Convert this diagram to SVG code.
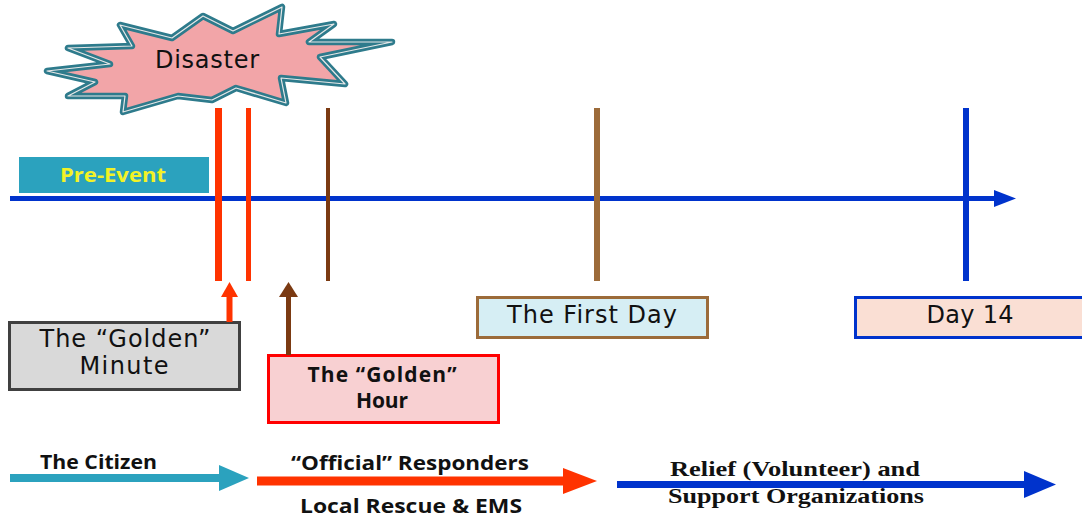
<svg xmlns="http://www.w3.org/2000/svg" width="1082" height="518" viewBox="0 0 1082 518">
<style>
.lucida{font-family:"DejaVu Sans","Liberation Sans",sans-serif;fill:#111;}
.cal{font-family:"Open Sans","Liberation Sans",sans-serif;font-weight:bold;fill:#111;}
.times{font-family:"Liberation Serif","Times New Roman",serif;font-weight:bold;fill:#111;}
.box{stroke-width:3;}
</style>
<rect width="1082" height="518" fill="#ffffff"/>

<g id="disaster">
<polygon points="47,71 110,64 68,48 132,46 120,25 172,38 203,16 233,31 282,7 279,34 334,24 309,42 392,42 320,57 345,84 281,78 286,103 236,88 212,100 178,96 123,112 125,96 68,96 95,82" fill="#f2a5a8" stroke="#2e7b8c" stroke-width="6.5" stroke-linejoin="round"/>
<polygon points="47,71 110,64 68,48 132,46 120,25 172,38 203,16 233,31 282,7 279,34 334,24 309,42 392,42 320,57 345,84 281,78 286,103 236,88 212,100 178,96 123,112 125,96 68,96 95,82" fill="none" stroke="#e8e8e8" stroke-width="1.2" stroke-linejoin="round"/>
<text class="lucida" x="207" y="68" font-size="24" text-anchor="middle" textLength="104" lengthAdjust="spacing">Disaster</text>
</g>

<g id="pre-event">
<rect x="19" y="157" width="190" height="36" fill="#2ba2be"/>
<text class="cal" x="113" y="182" font-size="19" text-anchor="middle" style="fill:#f2f226" textLength="106" lengthAdjust="spacingAndGlyphs">Pre-Event</text>
</g>

<g id="timeline">
<line x1="10" y1="198.5" x2="996" y2="198.5" stroke="#0033cc" stroke-width="5"/>
<polygon points="994,190 1016,198.5 994,207" fill="#0033cc"/>
<line x1="218.5" y1="108" x2="218.5" y2="281" stroke="#ff3300" stroke-width="7"/>
<line x1="248.5" y1="108" x2="248.5" y2="281" stroke="#ff3300" stroke-width="5"/>
<line x1="328" y1="108" x2="328" y2="281" stroke="#7b3a12" stroke-width="4"/>
<line x1="597" y1="108" x2="597" y2="281" stroke="#9c6b3a" stroke-width="6"/>
<line x1="966" y1="108" x2="966" y2="281" stroke="#0033cc" stroke-width="6"/>
</g>

<g id="golden-minute">
<rect class="box" x="9.5" y="322.5" width="230" height="67" fill="#d9d9d9" stroke="#404040"/>
<text class="lucida" x="125" y="347" font-size="24" text-anchor="middle" textLength="171" lengthAdjust="spacing">The “Golden”</text>
<text class="lucida" x="124" y="374" font-size="24" text-anchor="middle" textLength="89" lengthAdjust="spacing">Minute</text>
</g>

<g id="golden-hour">
<rect class="box" x="268.5" y="355.5" width="230" height="67" fill="#f8d0d2" stroke="#ff0000"/>
<text class="cal" x="382" y="382" font-size="21" text-anchor="middle" textLength="149" lengthAdjust="spacing">The “Golden”</text>
<text class="cal" x="382" y="408" font-size="21" text-anchor="middle" textLength="52" lengthAdjust="spacing">Hour</text>
</g>

<g id="first-day">
<rect class="box" x="477.5" y="297.5" width="230" height="40" fill="#d6eef4" stroke="#9c6b3a"/>
<text class="lucida" x="592" y="323" font-size="24" text-anchor="middle" textLength="170" lengthAdjust="spacing">The First Day</text>
</g>

<g id="day-14">
<rect class="box" x="855.5" y="297.5" width="240" height="40" fill="#fadfd4" stroke="#0033cc"/>
<text class="lucida" x="970" y="323" font-size="24" text-anchor="middle" textLength="87" lengthAdjust="spacing">Day 14</text>
</g>

<g id="connectors">
<line x1="229.5" y1="322" x2="229.5" y2="295" stroke="#ff3300" stroke-width="6"/>
<polygon points="221,297 229.5,282 238,297" fill="#ff3300"/>
<line x1="288.5" y1="355" x2="288.5" y2="295" stroke="#7b3a12" stroke-width="5"/>
<polygon points="279,297 288.5,282 298,297" fill="#7b3a12"/>
</g>

<g id="citizen">
<line x1="10" y1="478" x2="222" y2="478" stroke="#2ba2be" stroke-width="8"/>
<polygon points="219,465 249,478 219,491" fill="#2ba2be"/>
<text class="cal" x="40" y="469" font-size="19" textLength="117" lengthAdjust="spacingAndGlyphs">The Citizen</text>
</g>

<g id="responders">
<line x1="257" y1="481" x2="566" y2="481" stroke="#ff3300" stroke-width="9"/>
<polygon points="563,468 597,481 563,494" fill="#ff3300"/>
<text class="cal" x="410" y="470" font-size="19" text-anchor="middle" textLength="238" lengthAdjust="spacingAndGlyphs">“Official”  Responders</text>
<text class="cal" x="411" y="513" font-size="19" text-anchor="middle" textLength="222" lengthAdjust="spacingAndGlyphs">Local Rescue &amp;  EMS</text>
</g>

<g id="relief">
<line x1="617" y1="484.5" x2="1027" y2="484.5" stroke="#0033cc" stroke-width="7"/>
<polygon points="1024,471 1056,484.5 1024,498" fill="#0033cc"/>
<text class="times" x="670" y="476" font-size="22" textLength="250" lengthAdjust="spacingAndGlyphs">Relief (Volunteer) and</text>
<text class="times" x="668" y="503" font-size="22" textLength="256" lengthAdjust="spacingAndGlyphs">Support Organizations</text>
</g>
</svg>
